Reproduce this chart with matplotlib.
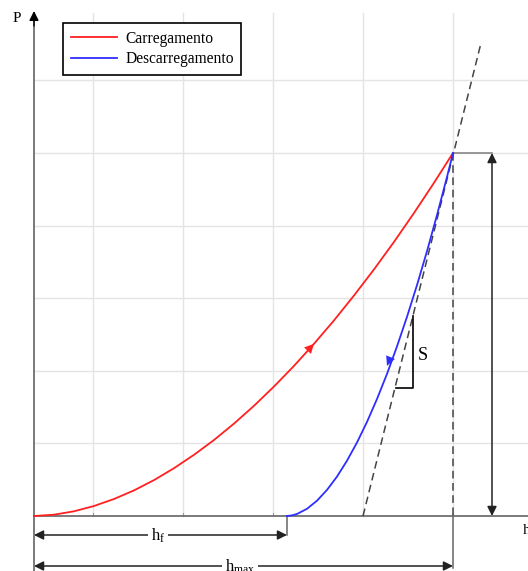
import numpy as np
import matplotlib.pyplot as plt

plt.rcParams['font.family'] = ['Liberation Serif', 'DejaVu Serif']
plt.rcParams['mathtext.fontset'] = 'custom'
plt.rcParams['mathtext.rm'] = 'Liberation Serif'
plt.rcParams['mathtext.it'] = 'Liberation Serif:italic'

# --------------------------------
# data (arbitrary units)
# --------------------------------
h_load = [0, 20, 40, 60, 80, 100, 120, 140, 160, 180, 200, 220,
          240, 260, 280, 300, 320, 340, 360, 380, 400, 419]
P_load = [0, 1.3, 4.7, 10.0, 17.0, 25.6, 35.9, 47.8, 61.2, 76.0, 92.4, 110.2,
          129.5, 150.1, 172.2, 195.6, 220.5, 246.6, 274.1, 303.0, 333.2, 363]

h_unload = [253, 258, 263, 273, 283, 293, 303, 313, 323, 333, 343, 353,
            363, 373, 383, 393, 403, 413, 419]
P_unload = [0, 0.6, 2.0, 7.2, 15.3, 26.1, 39.4, 55.3, 73.5, 94.1, 117.0, 142.1,
            169.6, 199.2, 230.9, 264.8, 300.9, 339.1, 363]

h_f = 253
h_max = 419
P_max = 363
h_tangent = [329, 447]       # dashed line (stiffness S)
P_tangent = [0, 473]

grid_h = [59, 149, 239, 329, 419]
grid_P = [72.6, 145.2, 217.8, 290.4, 363, 435.6]

labels = ["Carregamento", "Descarregamento"]

# --------------------------------
# plot
# --------------------------------
fig = plt.figure(figsize=(5.28, 5.71), dpi=100)
ax = fig.add_axes([0, 0, 1, 1])
ax.set_xlim(-34, 494)
ax.set_ylim(-55, 516)
ax.axis("off")

gc = "#e4e4e4"
for g in grid_h:
    ax.plot([g, g], [0, 503], color=gc, lw=1, zorder=0)
    ax.plot([g, g], [0, 3], color="#999999", lw=0.8, zorder=1)
for g in grid_P:
    ax.plot([0, 494], [g, g], color=gc, lw=1, zorder=0)

# axes
ac = "#707070"
ax.plot([0, 494], [0, 0], color=ac, lw=1.3, zorder=2)
ax.plot([0, 0], [-55, 498], color=ac, lw=1.3, zorder=2)
ax.annotate("", xy=(0, 505), xytext=(0, 490),
            arrowprops=dict(arrowstyle="-|>", color="black", lw=1,
                            mutation_scale=14, shrinkA=0, shrinkB=0))
ax.text(-17, 498, "P", fontsize=11, ha="center", va="center")
ax.text(489, -14, "h", fontsize=11, ha="left", va="center")

# curves
ax.plot(h_load, P_load, color="#ff2020", lw=1.3, label=labels[0], zorder=4)
ax.plot(h_unload, P_unload, color="#2e2eff", lw=1.3, label=labels[1], zorder=4)
ax.plot(h_tangent, P_tangent, color="#444444", lw=1.1, ls=(0, (5, 3)), zorder=3)
ax.plot([h_max, h_max], [P_max, 0], color="#444444", lw=1.1, ls=(0, (5, 3)), zorder=3)

# direction arrows on the curves
ax.annotate("", xy=(h_load[14], P_load[14]), xytext=(h_load[12], P_load[12]),
            arrowprops=dict(arrowstyle="-|>", color="#ff2020", lw=0,
                            mutation_scale=17, shrinkA=0, shrinkB=0))
ax.annotate("", xy=(h_unload[11], P_unload[11] + 8), xytext=(h_unload[13], P_unload[13]),
            arrowprops=dict(arrowstyle="-|>", color="#2e2eff", lw=0,
                            mutation_scale=17, shrinkA=0, shrinkB=0))

# stiffness triangle
ax.plot([379, 379, 362], [200, 128, 128], color="black", lw=1.2, zorder=3)
ax.text(384, 160, "S", fontsize=13, ha="left", va="center")

# P_max dimension
dc = "#222222"
ax.plot([h_max, 458], [P_max, P_max], color="#888888", lw=1.2)
ax.annotate("", xy=(458, P_max), xytext=(458, 0),
            arrowprops=dict(arrowstyle="<|-|>", color=dc, lw=1.1,
                            mutation_scale=14, shrinkA=0, shrinkB=0))

# h_f dimension
ax.plot([h_f, h_f], [0, -19], color="#666666", lw=1.1)
ax.annotate("", xy=(0, -19), xytext=(h_f, -19),
            arrowprops=dict(arrowstyle="<|-|>", color=dc, lw=1.1,
                            mutation_scale=14, shrinkA=0, shrinkB=0))
ax.text(124, -20, r"$\mathrm{h_f}$", fontsize=12, ha="center", va="center",
        bbox=dict(facecolor="white", edgecolor="none", pad=2))

# h_max dimension
ax.plot([h_max, h_max], [0, -52], color="#666666", lw=1.1)
ax.annotate("", xy=(0, -50), xytext=(h_max, -50),
            arrowprops=dict(arrowstyle="<|-|>", color=dc, lw=1.1,
                            mutation_scale=14, shrinkA=0, shrinkB=0))
ax.text(206, -51, r"$\mathrm{h_{max}}$", fontsize=12, ha="center", va="center",
        bbox=dict(facecolor="white", edgecolor="none", pad=2))

leg = ax.legend(loc="upper left", bbox_to_anchor=(0.119, 0.96), fontsize=11.2,
                frameon=True, fancybox=False, edgecolor="black",
                handlelength=3.0, borderpad=0.5, labelspacing=0.3,
                handletextpad=0.5, borderaxespad=0)
leg.get_frame().set_linewidth(1.2)
leg.get_frame().set_alpha(1)

fig.savefig("out.png", dpi=100)
